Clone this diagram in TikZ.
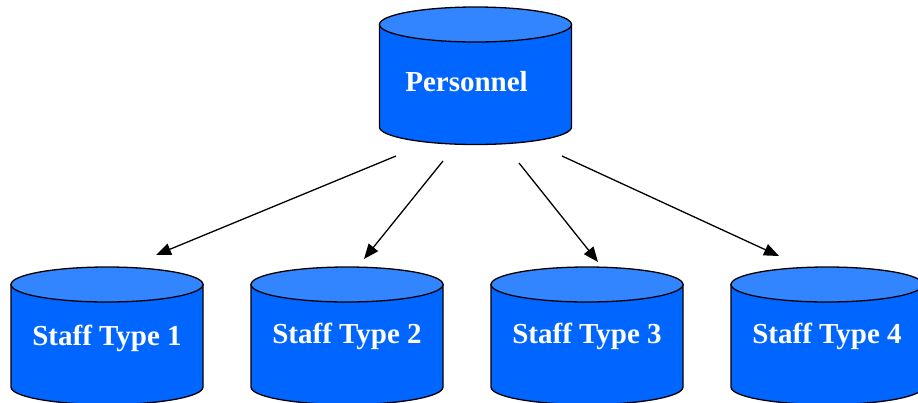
\documentclass[tikz,border=0pt]{standalone}
\usepackage{fontspec}
\setmainfont{Liberation Serif}
\usetikzlibrary{arrows.meta}

\definecolor{cylbody}{RGB}{0,102,255}
\definecolor{cyltop}{RGB}{51,133,255}

\tikzset{
  cylside/.style={draw=black, line width=1.3pt, fill=cylbody},
  cyllid/.style={draw=black, line width=1.3pt, fill=cyltop},
  cyltext/.style={text=white, font=\bfseries\fontsize{29}{32}\selectfont, inner sep=0pt, anchor=base},
  link/.style={draw=black, line width=1.3pt, -{Triangle[length=15pt,width=12pt]}}
}

% \drawcyl{center x}{top ellipse y}{bottom ellipse y}
\newcommand\drawcyl[3]{%
  \path[cylside] (#1-96,#2) -- (#1-96,#3)
     arc[start angle=180, end angle=0, x radius=96, y radius=17.5]
     -- (#1+96,#2) -- cycle;
  \path[cyllid] (#1,#2) ellipse[x radius=96, y radius=17.5];
}

\begin{document}
\begin{tikzpicture}[x=1pt, y=-1pt]
  \useasboundingbox (0,0) rectangle (918,402);

  % database cylinders
  \drawcyl{475.5}{24.5}{127}
  \drawcyl{107}{284.5}{387}
  \drawcyl{347}{284.5}{387}
  \drawcyl{587}{284.5}{387}
  \drawcyl{827}{284.5}{387}

  % labels
  \node[cyltext] (personnel) at (466.5,91) {Personnel};
  \node[cyltext] (staff1) at (107,345) {Staff Type 1};
  \node[cyltext] (staff2) at (347,343) {Staff Type 2};
  \node[cyltext] (staff3) at (587,343) {Staff Type 3};
  \node[cyltext] (staff4) at (827,343) {Staff Type 4};

  % arrow end points
  \coordinate (s1) at (396,156);
  \coordinate (e1) at (156,255);
  \coordinate (s2) at (443,161);
  \coordinate (e2) at (364,259);
  \coordinate (s3) at (519,163);
  \coordinate (e3) at (598,262);
  \coordinate (s4) at (562,156);
  \coordinate (e4) at (779,256);

  \draw[link] (s1) -- (e1);
  \draw[link] (s2) -- (e2);
  \draw[link] (s3) -- (e3);
  \draw[link] (s4) -- (e4);
\end{tikzpicture}
\end{document}
